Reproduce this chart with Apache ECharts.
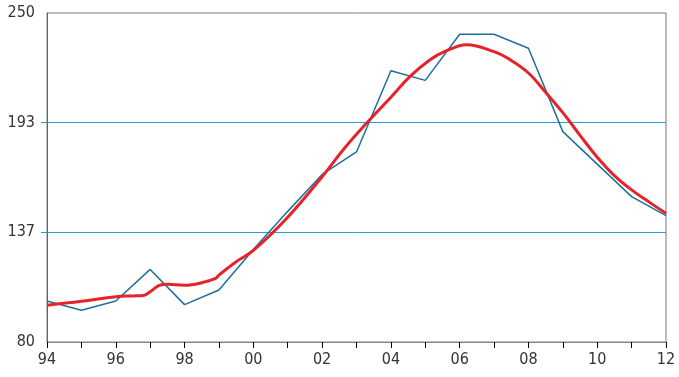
<!DOCTYPE html>
<html>
<head>
<meta charset="utf-8">
<script src="https://cdn.jsdelivr.net/npm/echarts@6/dist/echarts.min.js"></script>
<style>
html,body{margin:0;padding:0;background:#fff;}
#chart{width:679px;height:377px;}
</style>
</head>
<body>
<div id="chart"></div>
<script>
// Annual series (blue)
var years = [1994,1995,1996,1997,1998,1999,2000,2001,2002,2003,2004,2005,2006,2007,2008,2009,2010,2011,2012];
var annualValues = [101.2,96.4,101.2,117.5,99.3,106.9,127.8,147.5,166.6,178.2,220.2,215.2,239.0,239.0,231.8,188.7,171.9,155.1,145.3];

// Trend series (red), read at finer time points
var trendX = [1994,1995,1996,1996.5,1996.8,1997,1997.25,1997.5,1998,1998.5,1998.9,1999,1999.25,1999.5,2000,2001,2002,2002.65,2003.33,2004,2004.55,2005.13,2005.62,2006.2,2007,2007.5,2008,2008.5,2009,2009.5,2010,2010.5,2011,2011.5,2012];
var trendValues = [99.0,101.0,103.4,103.8,104.0,106.0,109.1,109.8,109.3,110.6,112.9,114.6,118.1,121.5,127.3,144.5,165.4,180.1,193.8,206.5,217.1,225.7,230.5,233.6,230.0,225.5,219.0,209.0,198.5,186.8,175.5,166.0,158.6,152.4,146.5];

// Tick labels
var xTickYears = [1994,1996,1998,2000,2002,2004,2006,2008,2010,2012];
var xTickLabels = ['94','96','98','00','02','04','06','08','10','12'];
var yTickValues = [80, 80 + 170/3, 80 + 340/3, 250];
var yTickLabels = ['80','137','193','250'];
var yGridValues = [80 + 170/3, 80 + 340/3];

var annualData = years.map(function (y, i) { return [y, annualValues[i]]; });
var trendData = trendX.map(function (x, i) { return [x, trendValues[i]]; });

var fontFam = '"Liberation Sans Narrow","DejaVu Sans Condensed",sans-serif';

var chart = echarts.init(document.getElementById('chart'), null, {renderer: 'canvas'});
chart.setOption({
  animation: false,
  backgroundColor: '#fff',
  grid: {
    left: 47, right: 13, top: 13, bottom: 35,
    show: true, borderColor: '#7a7a7a', borderWidth: 1, backgroundColor: 'transparent'
  },
  xAxis: {
    type: 'value',
    min: 1994, max: 2012, interval: 1,
    axisLine: {show: true, lineStyle: {color: '#8a8a8a', width: 1}},
    axisTick: {show: true, length: 6, lineStyle: {color: '#000', width: 1}},
    splitLine: {show: false},
    axisLabel: {
      margin: 10,
      color: '#333',
      fontSize: 16,
      fontFamily: fontFam,
      formatter: function (v) {
        var idx = xTickYears.indexOf(Math.round(v));
        return idx >= 0 ? xTickLabels[idx] : '';
      }
    }
  },
  yAxis: {
    type: 'value',
    min: 80, max: 250,
    axisLine: {show: true, lineStyle: {color: '#666', width: 1}},
    axisTick: {show: true, length: 6, customValues: yGridValues, lineStyle: {color: '#2b9bd3', width: 1}},
    splitLine: {show: true, lineStyle: {color: '#2b9bd3', width: 1}},
    axisLabel: {
      margin: 12,
      color: '#333',
      fontSize: 16,
      fontFamily: fontFam,
      customValues: yTickValues,
      formatter: function (v) {
        for (var i = 0; i < yTickValues.length; i++) {
          if (Math.abs(yTickValues[i] - v) < 0.01) return yTickLabels[i];
        }
        return '';
      }
    }
  },
  series: [
    {
      type: 'line',
      data: annualData,
      showSymbol: false,
      symbol: 'none',
      lineStyle: {color: '#1d6f9c', width: 1.5},
      z: 2
    },
    {
      type: 'line',
      data: trendData,
      showSymbol: false,
      symbol: 'none',
      smooth: 0.4,
      lineStyle: {color: '#e5232b', width: 3},
      z: 3
    }
  ]
});
</script>
</body>
</html>
